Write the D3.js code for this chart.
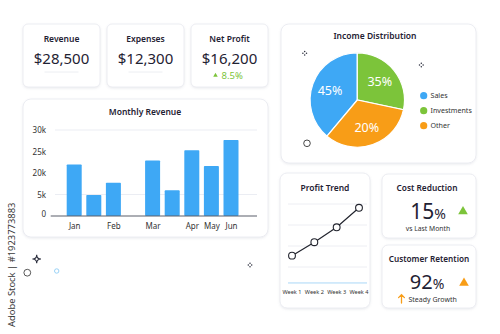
<!DOCTYPE html>
<html><head><meta charset="utf-8">
<script src="https://cdn.jsdelivr.net/npm/d3@7"></script>
<style>
body{margin:0;background:#fff;}
svg{display:block;font-family:"Noto Sans","Open Sans",sans-serif;}
</style>
</head><body>
<svg id="c" width="500" height="334"></svg>
<script>
// ---------- data ----------
const kpiLabels = ["Revenue", "Expenses", "Net Profit"];
const kpiValues = ["$28,500", "$12,300", "$16,200"];
const netProfitChange = "8.5%";

const months = ["Jan", "b2", "Feb", "gap", "Mar", "b5", "Apr", "May", "Jun"];
const monthLabels = ["Jan", "", "Feb", "", "Mar", "", "Apr", "May", "Jun"];
const revenue = [22000, 4900, 13200, null, 22900, 7900, 25300, 21600, 27700];
const revenueTicks = [0, 5000, 20000, 25000, 30000];
const revenueTickLabels = ["0", "5k", "20k", "25k", "30k"];

const incomeCategories = ["Sales", "Investments", "Other"];
const incomeShares = [38.9, 28.3, 32.8];      // slice sizes as drawn
const incomeLabels = ["45%", "35%", "20%"];    // printed labels
const incomeColors = ["#3ea8f5", "#7cc43a", "#f89d17"];

const weeks = ["Week 1", "Week 2", "Week 3", "Week 4"];
const profitTrend = [1.54, 2.18, 2.89, 3.82];
const profitGrid = [1, 2, 3, 4];

const costReduction = "15";
const customerRetention = "92";

// ---------- setup ----------
const svg = d3.select("#c");
const defs = svg.append("defs");
const f = defs.append("filter").attr("id", "sh").attr("x", "-10%").attr("y", "-10%").attr("width", "120%").attr("height", "130%");
f.append("feDropShadow").attr("dx", 0).attr("dy", 1).attr("stdDeviation", 1.2).attr("flood-color", "#7a8499").attr("flood-opacity", 0.16);

function card(x, y, w, h, r) {
  svg.append("rect").attr("x", x).attr("y", y).attr("width", w).attr("height", h)
    .attr("rx", r || 6).attr("fill", "#fff").attr("stroke", "#e7e9ef").attr("stroke-width", 0.8)
    .attr("filter", "url(#sh)");
}
const ink = "#1f2233";

// watermark side label
svg.append("text").attr("transform", "translate(14.5,327) rotate(-90)")
  .attr("font-size", 9.4).attr("fill", "#3a3a3a").text("Adobe Stock | #1923773883");

// ---------- KPI cards ----------
const kpiX = [23, 107, 191];
kpiLabels.forEach((lab, i) => {
  const x = kpiX[i], cx = x + 38.5;
  card(x, 24, 77, 63, 5);
  svg.append("text").attr("x", cx).attr("y", 42).attr("text-anchor", "middle")
    .attr("font-size", 8.5).attr("font-weight", 600).attr("fill", ink).text(lab);
  svg.append("text").attr("x", cx).attr("y", 64).attr("text-anchor", "middle")
    .attr("font-size", 15).attr("font-weight", 400).attr("fill", ink).text(kpiValues[i]);
  if (i < 2) {
    svg.append("line").attr("x1", cx - 17).attr("x2", cx + 17).attr("y1", 72).attr("y2", 72)
      .attr("stroke", "#eceef2").attr("stroke-width", 1);
  }
});
{
  const cx = kpiX[2] + 38.5;
  svg.append("path").attr("d", d3.symbol(d3.symbolTriangle, 9)()).attr("transform", `translate(${cx - 14},75.5)`).attr("fill", "#7cc43a");
  svg.append("text").attr("x", cx - 8).attr("y", 78.5).attr("font-size", 9.5).attr("fill", "#7cc43a").text(netProfitChange);
}

// ---------- Monthly Revenue ----------
card(23, 99, 245, 138, 8);
svg.append("text").attr("x", 145).attr("y", 115).attr("text-anchor", "middle")
  .attr("font-size", 8.5).attr("font-weight", 600).attr("fill", ink).text("Monthly Revenue");

const yR = d3.scaleLinear().domain(revenueTicks).range([216, 194.5, 173, 151.5, 130]);
const xR = d3.scalePoint().domain(months).range([74.2, 231]);
const barW = 15;

[30000, 5000].forEach(v => {
  svg.append("line").attr("x1", 55).attr("x2", 257).attr("y1", yR(v)).attr("y2", yR(v))
    .attr("stroke", "#e6e9f0").attr("stroke-width", 0.8);
});
const yAxis = svg.append("g").attr("transform", "translate(46,0)")
  .call(d3.axisLeft(yR).tickValues(revenueTicks).tickFormat((d, i) => revenueTickLabels[i]).tickSize(0).tickPadding(0));
yAxis.select(".domain").remove();
yAxis.selectAll("text").attr("font-size", 8).attr("fill", "#333").attr("font-family", "Noto Sans, sans-serif");
yAxis.selectAll(".tick").filter(d => d === 0).select("text").attr("dy", "0.05em");

svg.append("g").selectAll("rect").data(months.map((m, i) => ({ m, v: revenue[i] })).filter(d => d.v != null))
  .join("rect")
  .attr("x", d => xR(d.m) - barW / 2).attr("width", barW)
  .attr("y", d => yR(d.v)).attr("height", d => yR(0) - yR(d.v))
  .attr("fill", "#3ea8f5").attr("rx", 0.8);

svg.append("line").attr("x1", 50.7).attr("x2", 257).attr("y1", 216).attr("y2", 216)
  .attr("stroke", "#5a5f6b").attr("stroke-width", 1.2);

const xAxis = svg.append("g").attr("transform", "translate(0,216)")
  .call(d3.axisBottom(xR).tickFormat((d, i) => monthLabels[i]).tickSize(0).tickPadding(7));
xAxis.select(".domain").remove();
xAxis.selectAll("text").attr("font-size", 8).attr("fill", "#333").attr("font-family", "Noto Sans, sans-serif");

// ---------- Income Distribution ----------
card(281, 24, 195, 139, 8);
svg.append("text").attr("x", 375).attr("y", 39).attr("text-anchor", "middle")
  .attr("font-size", 8.5).attr("font-weight", 600).attr("fill", ink).text("Income Distribution");

const pieCx = 357.3, pieCy = 100, pieR = 47.2;
const start = -2 * Math.PI * incomeShares[0] / 100;
const pie = d3.pie().sort(null).startAngle(start).endAngle(start + 2 * Math.PI);
const arcs = pie(incomeShares);
const arc = d3.arc().innerRadius(0).outerRadius(pieR);
const labArc = d3.arc().innerRadius(29).outerRadius(29);
const pg = svg.append("g").attr("transform", `translate(${pieCx},${pieCy})`);
pg.selectAll("path").data(arcs).join("path").attr("d", arc)
  .attr("fill", (d, i) => incomeColors[i]).attr("stroke", "#fff").attr("stroke-width", 1.2);
pg.selectAll("text").data(arcs).join("text")
  .attr("transform", d => `translate(${labArc.centroid(d)})`)
  .attr("text-anchor", "middle").attr("dy", "0.36em")
  .attr("font-size", 12.5).attr("font-weight", 400).attr("fill", "#fff")
  .text((d, i) => incomeLabels[i]);

const legY = d3.scalePoint().domain(incomeCategories).range([95.7, 125.7]);
incomeCategories.forEach((c, i) => {
  svg.append("circle").attr("cx", 423.7).attr("cy", legY(c)).attr("r", 3.6).attr("fill", incomeColors[i]);
  svg.append("text").attr("x", 430.5).attr("y", legY(c)).attr("dy", "0.35em")
    .attr("font-size", 7.1).attr("fill", "#333").text(c);
});

// ---------- decorations ----------
function sparkle(x, y, s, sw) {
  const p = `M${x},${y - s} Q${x},${y} ${x + s},${y} Q${x},${y} ${x},${y + s} Q${x},${y} ${x - s},${y} Q${x},${y} ${x},${y - s}Z`;
  svg.append("path").attr("d", p).attr("fill", "none").attr("stroke", "#2b2e3d").attr("stroke-width", sw);
}
function dots(x, y, s) {
  [[0, -s], [s, 0], [0, s], [-s, 0]].forEach(([dx, dy]) =>
    svg.append("circle").attr("cx", x + dx).attr("cy", y + dy).attr("r", 0.75).attr("fill", "#2b2e3d"));
}
dots(304.7, 53.3, 1.8);
dots(421.3, 65, 1.8);
dots(250, 265, 1.7);
svg.append("circle").attr("cx", 307).attr("cy", 143.3).attr("r", 3.3).attr("fill", "none").attr("stroke", "#333").attr("stroke-width", 0.9);
sparkle(36.7, 259, 4.3, 1.1);
svg.append("circle").attr("cx", 27.3).attr("cy", 272.7).attr("r", 3.4).attr("fill", "none").attr("stroke", "#444").attr("stroke-width", 0.9);
svg.append("circle").attr("cx", 56.7).attr("cy", 271).attr("r", 2.2).attr("fill", "none").attr("stroke", "#8fcdf5").attr("stroke-width", 0.9);

// ---------- Profit Trend ----------
card(280, 173, 90, 135, 7);
svg.append("text").attr("x", 325).attr("y", 191).attr("text-anchor", "middle")
  .attr("font-size", 8.5).attr("font-weight", 600).attr("fill", ink).text("Profit Trend");
const xP = d3.scalePoint().domain(weeks).range([292, 359]);
const yP = d3.scaleLinear().domain([0, 4]).range([288, 204]);
profitGrid.forEach(v => {
  svg.append("line").attr("x1", 288).attr("x2", 367).attr("y1", yP(v)).attr("y2", yP(v))
    .attr("stroke", "#e8eaf0").attr("stroke-width", 0.8);
});
svg.append("line").attr("x1", 288).attr("x2", 367).attr("y1", yP(0.24)).attr("y2", yP(0.24))
  .attr("stroke", "#a9d7f7").attr("stroke-width", 1);
const line = d3.line().x((d, i) => xP(weeks[i])).y(d => yP(d));
svg.append("path").attr("d", line(profitTrend)).attr("fill", "none").attr("stroke", "#22242e").attr("stroke-width", 1.2);
svg.append("g").selectAll("circle").data(profitTrend).join("circle")
  .attr("cx", (d, i) => xP(weeks[i])).attr("cy", d => yP(d)).attr("r", 3.4)
  .attr("fill", "#fff").attr("stroke", "#22242e").attr("stroke-width", 1.1);
weeks.forEach(w => {
  svg.append("text").attr("x", xP(w)).attr("y", 293.5).attr("text-anchor", "middle")
    .attr("font-size", 5.6).attr("fill", "#333").text(w);
});

// ---------- Cost Reduction ----------
card(382, 174, 94, 64, 6);
svg.append("text").attr("x", 427).attr("y", 191).attr("text-anchor", "middle")
  .attr("font-size", 8.3).attr("font-weight", 600).attr("fill", ink).text("Cost Reduction");
{
  const t = svg.append("text").attr("x", 428).attr("y", 218.5).attr("text-anchor", "middle").attr("fill", ink);
  t.append("tspan").attr("font-size", 21).text(costReduction);
  t.append("tspan").attr("font-size", 14).text("%");
  svg.append("path").attr("d", d3.symbol(d3.symbolTriangle, 40)()).attr("transform", "translate(463,211.5)").attr("fill", "#7cc43a");
  svg.append("text").attr("x", 428).attr("y", 231).attr("text-anchor", "middle")
    .attr("font-size", 6.8).attr("fill", "#333").text("vs Last Month");
}

// ---------- Customer Retention ----------
card(382, 245, 94, 63, 6);
svg.append("text").attr("x", 429).attr("y", 262).attr("text-anchor", "middle")
  .attr("font-size", 8.2).attr("font-weight", 600).attr("fill", ink).text("Customer Retention");
{
  const t = svg.append("text").attr("x", 427).attr("y", 289).attr("text-anchor", "middle").attr("fill", ink);
  t.append("tspan").attr("font-size", 20).text(customerRetention);
  t.append("tspan").attr("font-size", 14).text("%");
  svg.append("path").attr("d", d3.symbol(d3.symbolTriangle, 40)()).attr("transform", "translate(464,283)").attr("fill", "#f89d17");
  // up arrow
  svg.append("path").attr("d", "M401.5,303 L401.5,295 M398.6,297.6 L401.5,294.6 L404.4,297.6")
    .attr("fill", "none").attr("stroke", "#f89d17").attr("stroke-width", 1.3).attr("stroke-linecap", "round");
  svg.append("text").attr("x", 408.5).attr("y", 301.5).attr("font-size", 7).attr("fill", "#333").text("Steady Growth");
}
</script>
</body></html>
